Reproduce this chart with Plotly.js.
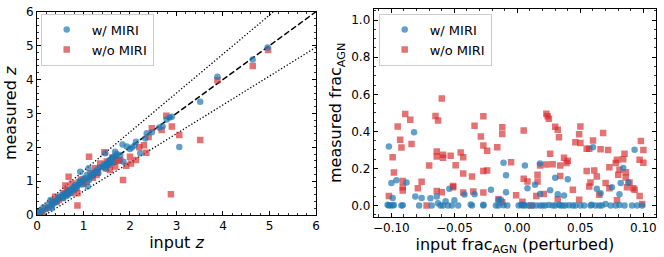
<!DOCTYPE html>
<html>
<head>
<meta charset="utf-8">
<script src="https://cdn.plot.ly/plotly-3.0.1.min.js"></script>
<style>html,body{margin:0;padding:0;background:#fff;}#chart{width:664px;height:257px;}</style>
</head>
<body>
<div id="chart"></div>
<script>
// ---- Left panel: redshift ----
const zBlueIn = [4.96,4.64,3.88,3.51,3.06,2.90,2.79,2.63,2.47,2.36,2.33,2.22,2.13,2.04,1.93,1.84,1.86,1.79,1.68,1.65,1.57,1.50,1.47,1.43,1.29,1.22,1.11,1.07,1.00,0.93,1.09,0.89,0.82,0.75,0.68,0.61,0.54,0.47,0.36,0.29,0.32,0.25,0.14,0.07,0.02,
  1.70,1.62,1.55,1.52,1.40,1.35,1.25,1.18,1.15,1.05,0.98,0.95,0.86,0.78,0.72,0.70,0.65,0.58,0.50,0.42,0.38,0.33,0.20,0.10,0.05,2.10,2.00,2.70,2.85,1.60,1.58,1.53,1.45,0.80,0.90,
  1.63,1.71,1.48,1.12,0.96,0.84,0.66,0.56,0.44,0.31,1.32,1.20,0.74,0.62];
const zBlueOut = [4.94,4.59,4.08,3.34,2.01,2.90,2.82,2.58,2.44,2.41,2.26,1.82,2.16,1.99,2.02,2.08,1.57,1.77,1.87,1.72,1.62,1.52,1.82,1.43,1.33,1.23,1.38,1.18,1.08,1.28,0.84,0.98,0.88,0.74,0.69,0.64,0.59,0.54,0.39,0.44,0.20,0.32,0.23,0.13,0.05,
  1.75,1.68,1.60,1.50,1.42,1.40,1.28,1.20,1.12,1.08,1.00,0.96,0.85,0.80,0.70,0.75,0.62,0.60,0.52,0.40,0.36,0.30,0.18,0.12,0.06,2.05,1.95,2.62,2.88,1.65,1.55,1.48,1.50,0.83,0.92,
  1.54,1.80,1.37,1.03,0.90,0.79,0.58,0.50,0.47,0.26,1.24,1.16,0.66,0.55];
const zRedIn = [4.97,4.64,3.88,3.51,3.06,2.90,2.88,2.78,2.68,2.47,2.35,2.30,2.13,2.02,1.92,1.85,1.79,1.68,1.45,1.12,1.25,1.15,0.93,0.87,0.87,0.68,0.61,0.57,0.47,0.39,0.32,0.18,0.09,1.36,1.65,1.57,1.07,0.79,0.75,0.64,2.00,
  1.55,1.48,1.30,1.20,1.00,0.85,0.72,0.55,0.42,0.25,0.12,0.04,2.20,2.40,1.75,1.62,1.50,0.95,0.66,1.28];
const zRedOut = [4.87,4.40,3.98,2.21,2.36,2.61,0.61,2.93,2.51,2.56,1.84,2.06,1.62,1.52,1.45,1.03,1.62,1.43,1.85,1.72,1.38,1.23,0.98,0.64,0.28,1.13,0.87,0.64,0.44,0.54,0.39,0.20,0.08,1.52,1.57,1.33,0.98,0.74,0.93,0.69,1.72,
  1.50,1.38,1.25,1.10,0.92,0.80,0.65,0.50,0.38,0.22,0.10,0.03,2.00,2.30,1.60,1.70,1.58,1.05,0.72,1.18];
const refX = [0, 6];

// ---- Right panel: AGN fraction ----
const fRedIn = [-0.102,-0.099,-0.098,-0.095,-0.093,-0.092,-0.091,-0.091,-0.091,-0.089,-0.085,-0.084,-0.079,-0.076,-0.072,-0.070,-0.065,-0.063,-0.064,-0.064,-0.064,-0.060,-0.059,-0.059,-0.060,-0.053,-0.051,-0.051,-0.049,-0.045,-0.043,-0.043,-0.043,-0.034,-0.036,-0.035,-0.029,-0.027,-0.027,-0.027,-0.027,-0.024,-0.024,-0.016,-0.012,-0.012,-0.015,-0.012,-0.005,-0.001,0.004,0.005,0.005,0.008,0.011,0.016,0.016,0.018,0.021,0.015,0.023,0.024,0.025,0.026,0.023,0.028,0.030,0.032,0.033,0.034,0.034,0.032,0.037,0.039,0.040,0.044,0.046,0.049,0.050,0.050,0.049,0.055,0.055,0.057,0.057,0.058,0.060,0.061,0.063,0.065,0.066,0.068,0.070,0.072,0.073,0.073,0.078,0.079,0.079,0.080,0.081,0.084,0.085,0.086,0.086,0.087,0.089,0.092,0.093,0.097,0.098,0.097,0.100,0.100,0.099];
const fRedOut = [0.052,0.261,0.178,0.427,0.355,0.313,0.099,0.081,0.132,0.494,0.463,0.332,0.094,0.128,0.000,0.216,0.483,0.459,0.292,0.265,0.079,0.577,0.274,0.258,0.072,0.268,0.106,0.099,0.218,0.286,0.261,0.173,0.070,0.431,0.157,0.076,0.373,0.481,0.324,0.186,0.070,0.295,0.189,0.315,0.422,0.386,0.034,0.018,0.234,0.056,0.020,0.405,0.144,0.130,0.000,0.130,0.166,0.216,0.063,0.052,0.495,0.481,0.468,0.279,0.222,0.223,0.425,0.409,0.369,0.216,0.160,0.034,0.258,0.229,0.241,0.085,0.342,0.384,0.427,0.337,0.031,0.187,0.306,0.306,0.103,0.124,0.351,0.189,0.157,0.058,0.304,0.391,0.121,0.299,0.207,0.094,0.229,0.247,0.029,0.166,0.193,0.250,0.279,0.180,0.151,0.099,0.124,0.094,0.085,0.052,0.348,0.247,0.299,0.231,0.009];
const fBlueIn = [-0.102,-0.100,-0.099,-0.096,-0.088,-0.082,-0.081,-0.076,-0.069,-0.064,-0.054,-0.057,-0.050,-0.042,-0.034,-0.021,-0.015,-0.011,-0.009,-0.009,0.006,0.008,0.014,0.018,0.018,0.026,0.030,0.032,0.037,0.040,0.060,0.063,0.066,0.075,0.081,0.082,0.084,0.088,0.093,
  -0.103,-0.102,-0.101,-0.099,-0.098,-0.092,-0.091,-0.078,-0.068,-0.063,-0.061,-0.059,-0.055,-0.052,-0.047,-0.037,-0.036,-0.027,-0.027,-0.017,-0.015,-0.013,-0.011,-0.008,0.001,0.003,0.004,0.005,0.006,0.009,0.012,0.015,0.018,0.020,0.022,0.025,0.028,0.030,0.033,0.034,0.036,0.038,0.041,0.044,0.046,0.050,0.053,0.058,0.059,0.062,0.065,0.067,0.070,0.074,0.078,0.081,0.085,0.091,0.095,0.099];
const fBlueOut = [0.319,0.121,0.041,0.137,0.124,0.396,0.049,0.041,0.040,0.049,0.090,0.023,0.029,0.059,0.061,0.085,0.031,0.231,0.072,0.164,0.216,0.094,0.112,0.227,0.063,0.083,0.150,0.061,0.054,0.142,0.314,0.090,0.067,0.099,0.061,0.121,0.202,0.124,0.301,
  0.004,0.000,0.002,0.000,0.003,0.000,0.002,0.000,0.000,0.012,0.000,0.000,0.000,0.001,0.000,0.006,0.000,0.000,0.004,0.000,0.000,0.030,0.002,0.000,0.000,0.004,0.000,0.005,0.001,0.000,0.000,0.001,0.000,0.000,0.000,0.003,0.000,0.000,0.004,0.000,0.001,0.000,0.002,0.000,0.000,0.000,0.001,0.000,0.005,0.000,0.000,0.000,0.008,0.000,0.000,0.003,0.000,0.000,0.001,0.000];

const BLUE = 'rgba(31,119,180,0.7)';
const RED = 'rgba(214,39,40,0.65)';
const FONT = 'DejaVu Sans, sans-serif';

const traces = [
  {x: refX, y: refX, mode: 'lines', line: {color: 'black', width: 1.5, dash: '6px,2.5px'}, showlegend: false, hoverinfo: 'skip', xaxis: 'x', yaxis: 'y'},
  {x: refX, y: refX.map(v => 1.15 * v + 0.15), mode: 'lines', line: {color: 'black', width: 1.3, dash: '1.3px,2px'}, showlegend: false, hoverinfo: 'skip', xaxis: 'x', yaxis: 'y'},
  {x: refX, y: refX.map(v => 0.85 * v - 0.15), mode: 'lines', line: {color: 'black', width: 1.3, dash: '1.3px,2px'}, showlegend: false, hoverinfo: 'skip', xaxis: 'x', yaxis: 'y'},
  {x: zRedIn, y: zRedOut, mode: 'markers', name: 'w/o MIRI', legendrank: 2, marker: {symbol: 'square', size: 6.5, color: RED}, xaxis: 'x', yaxis: 'y', legend: 'legend'},
  {x: zBlueIn, y: zBlueOut, mode: 'markers', name: 'w/ MIRI', legendrank: 1, marker: {symbol: 'circle', size: 6.5, color: BLUE}, xaxis: 'x', yaxis: 'y', legend: 'legend'},
  {x: fRedIn, y: fRedOut, mode: 'markers', name: 'w/o MIRI', legendrank: 2, marker: {symbol: 'square', size: 6.5, color: RED}, xaxis: 'x2', yaxis: 'y2', legend: 'legend2'},
  {x: fBlueIn, y: fBlueOut, mode: 'markers', name: 'w/ MIRI', legendrank: 1, marker: {symbol: 'circle', size: 6.5, color: BLUE}, xaxis: 'x2', yaxis: 'y2', legend: 'legend2'}
];

function minorTicks(d) {
  return {ticks: 'inside', ticklen: 2.2, tickwidth: 0.8, tickcolor: 'black', dtick: d, showgrid: false};
}
function axisBase(extra) {
  return Object.assign({
    showline: true, linecolor: 'black', linewidth: 1, mirror: 'allticks',
    ticks: 'inside', ticklen: 4, tickwidth: 1, tickcolor: 'black',
    showgrid: false, zeroline: false,
    tickfont: {family: FONT, size: 12, color: 'black'}
  }, extra);
}

const legendStyle = {
  bgcolor: 'rgba(255,255,255,0.8)', bordercolor: '#cccccc', borderwidth: 1,
  font: {family: FONT, size: 13, color: 'black'},
  xanchor: 'left', yanchor: 'top', itemwidth: 40, tracegroupgap: 0,
  traceorder: 'normal'
};

const layout = {
  width: 664, height: 257,
  margin: {l: 37, r: 8, t: 9, b: 40},
  paper_bgcolor: 'white', plot_bgcolor: 'white',
  font: {family: FONT, color: 'black'},
  xaxis: axisBase({domain: [0, 0.4507], range: [0, 6], dtick: 1, tick0: 0, minor: minorTicks(0.2),
    title: {text: 'input <i>z</i>', font: {family: FONT, size: 16}, standoff: 3}, anchor: 'y'}),
  yaxis: axisBase({domain: [0.0096, 0.987], range: [0, 6], dtick: 1, tick0: 0, minor: minorTicks(0.2),
    title: {text: 'measured <i>z</i>', font: {family: FONT, size: 16}, standoff: 5}, anchor: 'x'}),
  xaxis2: axisBase({domain: [0.544, 1], range: [-0.114, 0.110], dtick: 0.05, tick0: 0, tickformat: '.2f', minor: minorTicks(0.01),
    title: {text: 'input frac<sub>AGN</sub> (perturbed)', font: {family: FONT, size: 16}, standoff: 3}, anchor: 'y2'}),
  yaxis2: axisBase({domain: [0.0015, 1], range: [-0.06, 1.06], dtick: 0.2, tick0: 0, tickformat: '.1f', minor: minorTicks(0.05),
    title: {text: 'measured frac<sub>AGN</sub>', font: {family: FONT, size: 16}, standoff: 5}, anchor: 'x2'}),
  legend: Object.assign({x: 0.006, y: 0.978}, legendStyle),
  legend2: Object.assign({x: 0.552, y: 0.978}, legendStyle),
  showlegend: true
};

Plotly.newPlot('chart', traces, layout, {displayModeBar: false, staticPlot: true});
</script>
</body>
</html>
